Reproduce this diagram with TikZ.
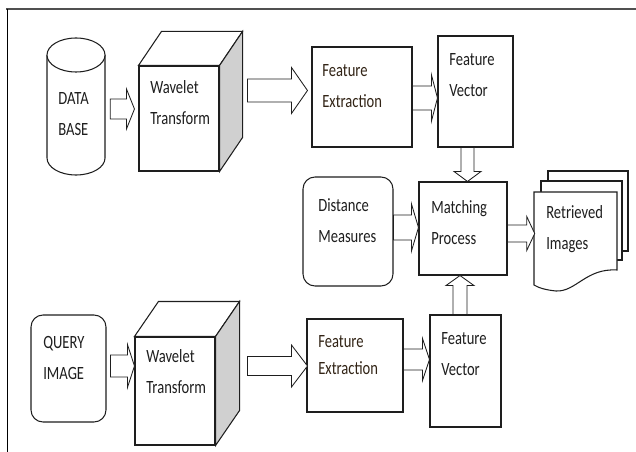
\documentclass[tikz,border=0pt]{standalone}
\usepackage{fontspec}
\setmainfont{Carlito}[FakeStretch=0.78]
\usetikzlibrary{positioning,fit,calc}
\definecolor{framegray}{RGB}{80,80,80}
\definecolor{sidegray}{RGB}{208,208,208}
\definecolor{inkgray}{RGB}{30,30,30}
\definecolor{inkbrown}{RGB}{50,36,22}

\begin{document}
\begin{tikzpicture}[
x=0.025cm, y=-0.025cm,
box/.style={draw=inkgray, fill=white, line width=0.75pt, inner sep=0pt},
roundbox/.style={box, rounded corners=0.3cm},
spot/.style={inner sep=0pt},
txt/.style={anchor=north west, inner sep=0pt, align=left, text=inkgray,
  font=\fontsize{13.3pt}{22pt}\selectfont},
% block arrow: shaft half width, head half width, head length (in px)
fat/.style n args={3}{draw=inkgray, fill=white, line width=0.6pt, to path={
  let \p1=(\tikztostart), \p2=(\tikztotarget), \p3=($(\p2)!{#3*0.025cm}!(\p1)$) in
  ($(\p1)!{#1*0.025cm}!90:(\p2)$) -- ($(\p3)!{#1*0.025cm}!90:(\p2)$)
  -- ($(\p3)!{#2*0.025cm}!90:(\p2)$) -- (\p2)
  -- ($(\p3)!{#2*0.025cm}!-90:(\p2)$) -- ($(\p3)!{#1*0.025cm}!-90:(\p2)$)
  -- ($(\p1)!{#1*0.025cm}!-90:(\p2)$) -- cycle}}
]
\useasboundingbox (0,0) rectangle (636,452);

% frame
\draw[framegray, line width=1.4pt] (6,9) -- (636,9);
\draw[black, line width=0.7pt] (7,9) -- (7,452);

% database cylinder
\node[spot, fit={(47,38) (105,175)}] (db) {};
\draw[box] (47,55) -- (47,158) arc[start angle=180, end angle=360, x radius=0.725cm, y radius=0.425cm] -- (105,55);
\draw[box] (76,55) ellipse[x radius=0.725cm, y radius=0.425cm];

% query image
\node[roundbox, fit={(31,315) (106,422)}] (qi) {};

% wavelet cubes (front faces)
\node[box, fit={(139,66) (219,171)}] (wt) {};
\node[box, fit={(135,337) (215,445)}] (wt2) {};
\foreach \c/\dx/\dy in {wt/23/34, wt2/24/35} {
  \draw[box] (\c.north west) -- ++(\dx,-\dy) -- ($(\c.north east)+(\dx,-\dy)$) -- (\c.north east) -- cycle;
  \draw[box, fill=sidegray] (\c.north east) -- ++(\dx,-\dy) -- ($(\c.south east)+(\dx,-\dy)$) -- (\c.south east) -- cycle;
}

% feature boxes
\node[box, fit={(312,47) (412,147)}] (fe) {};
\node[box, fit={(438,36) (513,147)}] (fv) {};
\node[box, fit={(307,319) (403,412)}] (fe2) {};
\node[box, fit={(430,315) (501,427)}] (fv2) {};

% matching
\node[roundbox, fit={(303,177) (393,286)}] (dm) {};
\node[box, fit={(419,182) (507,275)}] (mp) {};

% retrieved images (stacked documents)
\node[spot, fit={(534,192) (617,291)}] (ri) {};
\draw[box] (548,181) -- (548,171) -- (628,171) -- (628,251) -- (622,251);
\draw[box] (541,192) -- (541,181) -- (622,181) -- (622,260) -- (617,260);
\draw[box] (534,192) -- (617,192) -- (617,270)
  .. controls (586,268) and (576,292) .. (556,291)
  .. controls (546,290) and (539,288) .. (534,285) -- cycle;

% labels
\node[txt] (dbtxt) at (58,92) {DATA\\BASE};
\node[txt] (qitxt) at (43,336) {QUERY\\IMAGE};
\node[txt] (wttxt) at (150,80) {Wavelet\\Transform};
\node[txt] (wt2txt) at (146,349) {Wavelet\\Transform};
\node[txt, text=inkbrown] (fetxt) at (322,64) {Feature\\Extraction};
\node[txt] (fvtxt) at (449,53) {Feature\\Vector};
\node[txt, text=inkbrown, font=\fontsize{13.3pt}{19.2pt}\selectfont] (fe2txt) at (318,335) {Feature\\Extraction};
\node[txt] (fv2txt) at (441,332) {Feature\\Vector};
\node[txt] (dmtxt) at (318,198) {Distance\\Measures};
\node[txt] (mptxt) at (431,200) {Matching\\Process};
\node[txt] (ritxt) at (546,205) {Retrieved\\Images};

% block arrows
\draw[fat={10}{20}{8}] ($(db.east)+(5,2.5)$) to ($(wt.west)+(-4,-9.5)$);
\draw[fat={11.5}{23}{16}] ($(wt.east)+(28,-28)$) to ($(fe.west)+(-4,-6.5)$);
\draw[fat={12}{23}{6}] ($(fe.east)+(0,1)$) to ($(fv.west)+(0,6.5)$);
\draw[fat={6.5}{13.5}{10}] ($(fv.south)+(-8,0)$) to ($(mp.north)+(4.5,0)$);
\draw[fat={12.5}{23.5}{7}] ($(dm.east)+(0,-4)$) to ($(mp.west)+(0,-1)$);
\draw[fat={8.5}{17}{8}] ($(mp.east)+(0,5)$) to ($(ri.west)+(1,-8)$);
\draw[fat={7}{14}{10}] ($(fv2.north)+(-5.5,0)$) to ($(mp.south)+(-3,0)$);
\draw[fat={10.5}{21}{7}] ($(fe2.east)+(0,-6)$) to ($(fv2.west)+(0,-11.5)$);
\draw[fat={11}{21.5}{7}] ($(qi.east)+(4,-2.5)$) to ($(wt2.west)+(0,-25)$);
\draw[fat={9.5}{21}{16}] ($(wt2.east)+(32,-25)$) to ($(fe2.west)+(1,0.5)$);
\end{tikzpicture}
\end{document}
